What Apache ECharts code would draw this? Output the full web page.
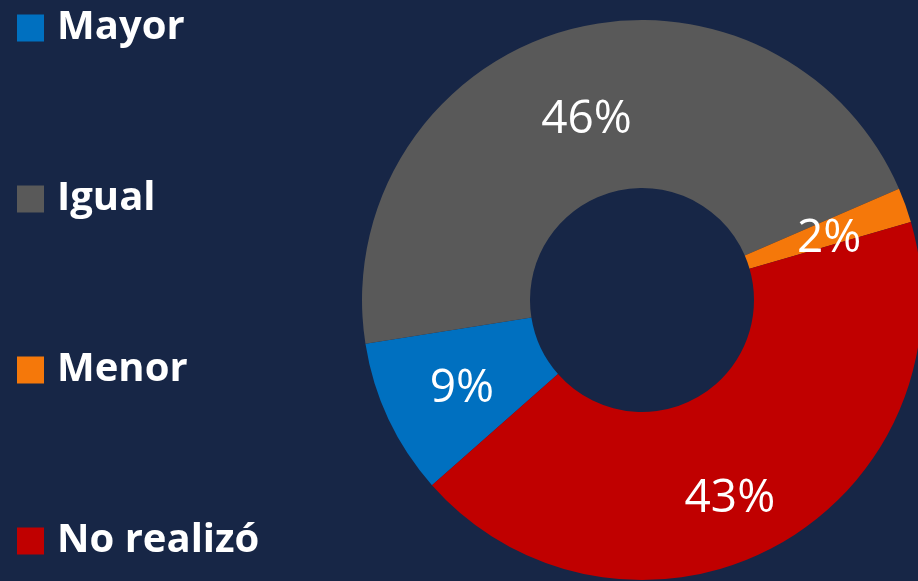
<!DOCTYPE html>
<html>
<head>
<meta charset="utf-8">
<style>
  html, body { margin: 0; padding: 0; background: #172646; }
  #chart { width: 918px; height: 581px; }
</style>
<script src="https://cdn.jsdelivr.net/npm/echarts@6/dist/echarts.min.js"></script>
</head>
<body>
<div id="chart"></div>
<script>
// categories and shares (%)
const categories = ['Mayor', 'Igual', 'Menor', 'No realizó'];
const shares = [9, 46, 2, 43];
const colors = ['#0070c0', '#595959', '#f5780a', '#c00000'];
// label nudges vs the ring midpoint, like Excel places them (drop is doubled, left is doubled)
const labelDrop = [8, 22, 12, 50];
const labelLeft = [0, 0, 0, 16];

const chart = echarts.init(document.getElementById('chart'));

const pieData = categories.map((name, i) => ({
  name: name,
  value: shares[i],
  itemStyle: { color: colors[i] },
  label: {
    formatter: '{gap| }\n{v|{c}%}',
    rich: {
      gap: { height: labelDrop[i], lineHeight: labelDrop[i], fontSize: 1 },
      v: {
        color: '#ffffff', fontFamily: 'Open Sans', fontSize: 46, lineHeight: 50,
        padding: [0, labelLeft[i], 0, 0]
      }
    }
  }
}));

chart.setOption({
  backgroundColor: '#172646',
  animation: false,
  legend: {
    orient: 'vertical',
    left: 12,
    top: 1,
    itemWidth: 27,
    itemHeight: 27,
    itemGap: 127,
    icon: 'rect',
    data: categories,
    selectedMode: false,
    textStyle: {
      color: '#ffffff',
      fontFamily: 'Open Sans',
      fontWeight: 'bold',
      fontSize: 40,
      lineHeight: 44,
      padding: [0, 0, 0, 8]
    }
  },
  series: [
    {
      type: 'pie',
      center: [642, 300],
      radius: [112, 280],
      startAngle: 221.4,
      clockwise: true,
      avoidLabelOverlap: false,
      label: {
        show: true,
        position: 'inside',
        color: '#ffffff',
        textBorderWidth: 0
      },
      labelLine: { show: false },
      emphasis: { disabled: true },
      itemStyle: { borderWidth: 0 },
      data: pieData
    }
  ]
});
</script>
</body>
</html>
